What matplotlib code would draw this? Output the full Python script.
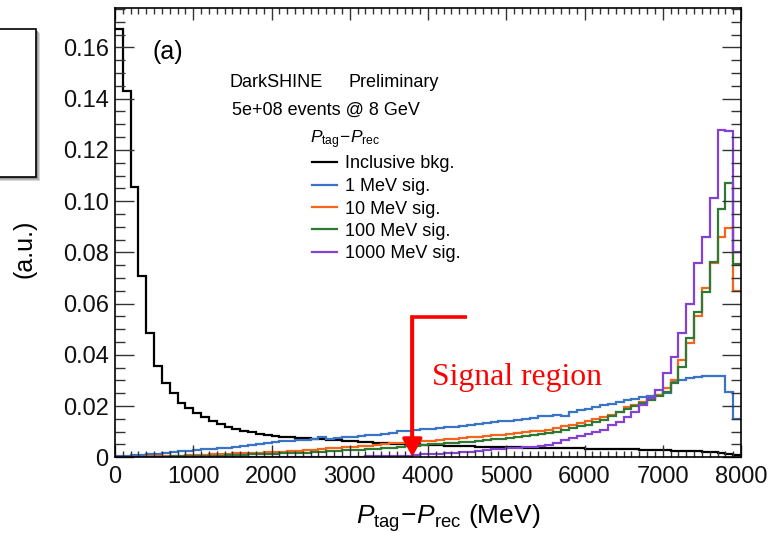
import matplotlib
matplotlib.use("Agg")
import matplotlib.pyplot as plt
import numpy as np
from matplotlib.patches import Rectangle
from matplotlib.ticker import MultipleLocator, FuncFormatter

plt.rcParams["font.family"] = ["Liberation Sans", "DejaVu Sans"]
plt.rcParams["mathtext.fontset"] = "custom"
plt.rcParams["mathtext.rm"] = "Liberation Sans"
plt.rcParams["mathtext.it"] = "Liberation Sans:italic"

# 80 bins of 100 MeV, 0 - 8000 MeV
bin_edges = np.arange(0, 8001, 100)

bkg_inclusive = [
    0.1672, 0.1431, 0.1055, 0.0708, 0.0485, 0.0358, 0.0289, 0.0250, 0.0213, 0.0191,
    0.0172, 0.0156, 0.0143, 0.0130, 0.0119, 0.0110, 0.0103, 0.0097, 0.0092, 0.0088,
    0.0084, 0.0081, 0.0078, 0.0076, 0.0074, 0.0072, 0.0070, 0.0068, 0.0066, 0.0064,
    0.0062, 0.0060, 0.0058, 0.0056, 0.0055, 0.0053, 0.0052, 0.0051, 0.0050, 0.0049,
    0.0048, 0.0047, 0.0046, 0.0045, 0.0044, 0.0043, 0.0042, 0.0042, 0.0041, 0.0040,
    0.0040, 0.0039, 0.0038, 0.0038, 0.0037, 0.0037, 0.0036, 0.0036, 0.0035, 0.0035,
    0.0034, 0.0034, 0.0033, 0.0033, 0.0032, 0.0031, 0.0031, 0.0030, 0.0029, 0.0028,
    0.0027, 0.0026, 0.0025, 0.0024, 0.0023, 0.0021, 0.0019, 0.0017, 0.0013, 0.0008,
]
sig_1mev = [
    0.0004, 0.0006, 0.0008, 0.0010, 0.0012, 0.0014, 0.0018, 0.0021, 0.0023, 0.0025,
    0.0028, 0.0031, 0.0033, 0.0035, 0.0038, 0.0041, 0.0044, 0.0047, 0.0051, 0.0055,
    0.0060, 0.0062, 0.0064, 0.0066, 0.0068, 0.0070, 0.0080, 0.0073, 0.0076, 0.0079,
    0.0081, 0.0084, 0.0087, 0.0089, 0.0092, 0.0096, 0.0101, 0.0104, 0.0107, 0.0110,
    0.0112, 0.0114, 0.0117, 0.0120, 0.0123, 0.0126, 0.0130, 0.0133, 0.0138, 0.0140,
    0.0143, 0.0146, 0.0150, 0.0155, 0.0160, 0.0163, 0.0166, 0.0160, 0.0176, 0.0183,
    0.0188, 0.0197, 0.0203, 0.0210, 0.0217, 0.0224, 0.0229, 0.0234, 0.0240, 0.0245,
    0.0250, 0.0295, 0.0300, 0.0310, 0.0315, 0.0318, 0.0318, 0.0316, 0.0254, 0.0148,
]
sig_10mev = [
    0.0001, 0.0002, 0.0002, 0.0003, 0.0004, 0.0004, 0.0005, 0.0006, 0.0007, 0.0008,
    0.0009, 0.0010, 0.0012, 0.0013, 0.0014, 0.0015, 0.0016, 0.0017, 0.0018, 0.0019,
    0.0020, 0.0022, 0.0024, 0.0026, 0.0028, 0.0030, 0.0033, 0.0035, 0.0037, 0.0039,
    0.0041, 0.0043, 0.0045, 0.0047, 0.0051, 0.0054, 0.0057, 0.0059, 0.0061, 0.0063,
    0.0065, 0.0067, 0.0070, 0.0073, 0.0075, 0.0078, 0.0080, 0.0083, 0.0086, 0.0089,
    0.0092, 0.0095, 0.0098, 0.0101, 0.0104, 0.0108, 0.0113, 0.0124, 0.0128, 0.0133,
    0.0142, 0.0150, 0.0158, 0.0167, 0.0178, 0.0195, 0.0204, 0.0215, 0.0228, 0.0245,
    0.0269, 0.0302, 0.0380, 0.0445, 0.0550, 0.0660, 0.0758, 0.0861, 0.0896, 0.0650,
]
sig_100mev = [
    0.0000, 0.0001, 0.0001, 0.0002, 0.0002, 0.0003, 0.0003, 0.0004, 0.0004, 0.0005,
    0.0005, 0.0006, 0.0007, 0.0007, 0.0008, 0.0009, 0.0010, 0.0011, 0.0012, 0.0013,
    0.0014, 0.0015, 0.0016, 0.0017, 0.0018, 0.0020, 0.0022, 0.0024, 0.0026, 0.0027,
    0.0029, 0.0030, 0.0032, 0.0034, 0.0036, 0.0038, 0.0041, 0.0044, 0.0046, 0.0048,
    0.0050, 0.0052, 0.0054, 0.0056, 0.0059, 0.0061, 0.0064, 0.0067, 0.0070, 0.0073,
    0.0076, 0.0079, 0.0083, 0.0087, 0.0091, 0.0095, 0.0100, 0.0108, 0.0115, 0.0121,
    0.0128, 0.0138, 0.0146, 0.0162, 0.0175, 0.0188, 0.0200, 0.0213, 0.0225, 0.0240,
    0.0256, 0.0289, 0.0354, 0.0464, 0.0566, 0.0644, 0.0763, 0.0968, 0.1069, 0.0753,
]
sig_1000mev = [
    0.0000, 0.0000, 0.0000, 0.0000, 0.0000, 0.0000, 0.0000, 0.0000, 0.0000, 0.0000,
    0.0000, 0.0000, 0.0000, 0.0000, 0.0000, 0.0000, 0.0001, 0.0001, 0.0001, 0.0001,
    0.0001, 0.0001, 0.0001, 0.0001, 0.0001, 0.0002, 0.0002, 0.0002, 0.0002, 0.0002,
    0.0003, 0.0003, 0.0004, 0.0004, 0.0005, 0.0005, 0.0006, 0.0007, 0.0009, 0.0011,
    0.0012, 0.0014, 0.0016, 0.0018, 0.0020, 0.0022, 0.0025, 0.0028, 0.0031, 0.0033,
    0.0035, 0.0037, 0.0039, 0.0041, 0.0044, 0.0048, 0.0055, 0.0068, 0.0075, 0.0082,
    0.0091, 0.0100, 0.0108, 0.0126, 0.0138, 0.0158, 0.0178, 0.0205, 0.0230, 0.0263,
    0.0328, 0.0393, 0.0484, 0.0598, 0.0760, 0.0859, 0.1011, 0.1278, 0.1275, 0.0800,
]

series = [
    (bkg_inclusive, "Inclusive bkg.", "#000000"),
    (sig_1mev, "1 MeV sig.", "#3a74c6"),
    (sig_10mev, "10 MeV sig.", "#f5661c"),
    (sig_100mev, "100 MeV sig.", "#2e7a34"),
    (sig_1000mev, "1000 MeV sig.", "#8442d4"),
]

fig = plt.figure(figsize=(7.74, 5.33), dpi=100)
ax = fig.add_axes([115 / 774, (533 - 457.3) / 533, 626 / 774, 449.3 / 533])

for vals, lab, col in series:
    ax.stairs(vals, bin_edges, color=col, lw=1.6, baseline=None)

ax.set_xlim(0, 8000)
ax.set_ylim(0, 0.1754)
ax.xaxis.set_major_locator(MultipleLocator(1000))
ax.xaxis.set_minor_locator(MultipleLocator(100))
ax.yaxis.set_major_locator(MultipleLocator(0.02))
ax.yaxis.set_minor_locator(MultipleLocator(0.005))
ax.yaxis.set_major_formatter(FuncFormatter(lambda v, p: "0" if abs(v) < 1e-9 else f"{v:.2f}"))
ax.tick_params(which="both", direction="in", top=True, right=True, width=1.0,
               color="#333333", labelcolor="#111111")
ax.tick_params(axis="x", which="major", length=8.6, pad=6.5, labelsize=17)
ax.tick_params(axis="x", which="minor", length=4.3)
ax.tick_params(axis="y", which="major", length=13.5, pad=4.5, labelsize=17)
ax.tick_params(axis="y", which="minor", length=7)
for sp in ax.spines.values():
    sp.set_linewidth(1.2)

ax.set_xlabel(r"$P_{\mathrm{tag}}\!-\!P_{\mathrm{rec}}$ (MeV)", fontsize=19, va="baseline")
ax.xaxis.set_label_coords(0.532, -0.1485)
ax.set_ylabel("(a.u.)", fontsize=18, va="center")
ax.yaxis.set_label_coords(-0.144, 0.465)

tr = ax.transAxes
ax.text(0.0602, 0.8876, "(a)", fontsize=18, transform=tr, va="baseline")
ax.text(0.1826, 0.8248, "DarkSHINE", fontsize=13, transform=tr, va="baseline")
ax.text(0.3727, 0.8248, "Preliminary", fontsize=13, transform=tr, va="baseline")
ax.text(0.1863, 0.7618, "5e+08 events @ 8 GeV", fontsize=13, transform=tr, va="baseline")
ax.text(0.3115, 0.6989, r"$P_{\mathrm{tag}}\!-\!P_{\mathrm{rec}}$", fontsize=12.5,
        transform=tr, va="baseline")

# legend drawn by hand to keep ROOT-like spacing
for i, (vals, lab, col) in enumerate(series):
    yb = (457.3 - (168.5 + 22.5 * i)) / 449.3
    yl = yb + 6.5 / 449.3
    ax.plot([0.3142, 0.3541], [yl, yl], color=col, lw=1.6, transform=tr)
    ax.text(0.3674, yb, lab, fontsize=13, transform=tr, va="baseline")

# signal region marker
ax.plot([4500, 3800, 3800], [0.0546, 0.0546, 0.008], color="red", lw=2.6,
        solid_joinstyle="miter", solid_capstyle="butt")
ax.annotate("", xy=(3800, 0.0002), xytext=(3800, 0.0546),
            arrowprops=dict(arrowstyle="-|>,head_length=0.9,head_width=0.5",
                            color="red", lw=2.6, mutation_scale=12,
                            shrinkA=0, shrinkB=0))
ax.text(0.5059, 0.1609, "Signal region", fontsize=22.8, color="red",
        family="Liberation Serif", transform=tr, va="baseline")

# cut-off box at the top left corner, with shadow
for off, c in [(4, "#d8d8d8"), (3, "#b8b8b8"), (2, "#999999")]:
    fig.add_artist(Rectangle(((-5 + off) / 774, (533 - 177.3 - off) / 533), 41 / 774, 148 / 533,
                             transform=fig.transFigure, facecolor=c, edgecolor="none"))
fig.add_artist(Rectangle((-5 / 774, (533 - 177.3) / 533), 41 / 774, 148 / 533,
                         transform=fig.transFigure, facecolor="white", edgecolor="black", lw=1.2))

fig.savefig("out.png", dpi=100)
